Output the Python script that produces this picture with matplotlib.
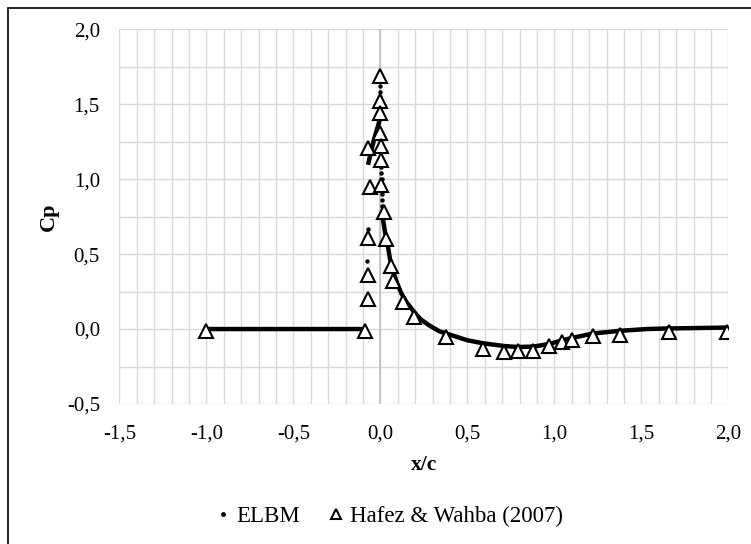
import numpy as np
import matplotlib
matplotlib.use("Agg")
import matplotlib.pyplot as plt
from matplotlib.lines import Line2D
from matplotlib.patches import Rectangle

plt.rcParams['font.family'] = ['Liberation Serif', 'DejaVu Serif']

# ELBM - dense parts (drawn as thick dotted line), NaN separates segments
elbm_x = [-1.0, -0.55, -0.1, np.nan,
          -0.068, -0.05, -0.035, -0.02, -0.005, 0.0, np.nan,
          0.017, 0.025, 0.04, 0.055, 0.075, 0.095, 0.12, 0.15, 0.19, 0.23, 0.28,
          0.34, 0.42, 0.5, 0.59, 0.71, 0.79, 0.88, 0.97, 1.045, 1.10, 1.22,
          1.375, 1.53, 1.66, 2.0]
elbm_y = [0.0, 0.0, 0.0, np.nan,
          1.11, 1.2, 1.27, 1.33, 1.39, 1.42, np.nan,
          0.72, 0.66, 0.58, 0.47, 0.38, 0.31, 0.24, 0.18, 0.12, 0.067, 0.025,
          -0.015, -0.045, -0.075, -0.095, -0.113, -0.12, -0.117, -0.1, -0.075, -0.06, -0.03,
          -0.012, 0.0, 0.004, 0.01]
# ELBM - isolated points near the leading edge
elbm_sparse_x = [-0.07, -0.075, 0.0, 0.0, 0.0, 0.005, 0.005, 0.008, 0.01, 0.01, 0.012, 0.015]
elbm_sparse_y = [0.67, 0.455, 1.62, 1.58, 1.55, 1.08, 1.04, 1.0, 0.9, 0.86, 0.82, 0.76]

# Hafez & Wahba (2007)
hafez_x = [-1.0, -0.09, -0.07, -0.07, -0.07, -0.06, -0.07, 0.0, 0.0, 0.0, 0.0, 0.005, 0.005,
           0.005, 0.02, 0.035, 0.06, 0.07, 0.13, 0.195, 0.38, 0.59, 0.71, 0.79, 0.88, 0.97,
           1.045, 1.10, 1.22, 1.375, 1.66, 1.99]
hafez_y = [-0.01, -0.01, 0.20, 0.36, 0.61, 0.945, 1.205, 1.69, 1.52, 1.44, 1.31, 1.22, 1.13,
           0.96, 0.78, 0.60, 0.42, 0.32, 0.18, 0.08, -0.05, -0.13, -0.15, -0.145, -0.145, -0.11,
           -0.085, -0.07, -0.045, -0.04, -0.02, -0.02]

x_ticks = [-1.5, -1.0, -0.5, 0.0, 0.5, 1.0, 1.5, 2.0]
y_ticks = [-0.5, 0.0, 0.5, 1.0, 1.5, 2.0]

fig = plt.figure(figsize=(7.51, 5.44), dpi=100)
fig.patches.append(Rectangle((7.5/751, -0.1), 1.2, 1 - 7.5/544 + 0.1, transform=fig.transFigure,
                             fill=False, edgecolor='black', linewidth=1.2, zorder=0))
ax = fig.add_axes([0.1589, 0.2574, 0.9698 - 0.1589, 0.9461 - 0.2574])

ax.set_xlim(-1.5, 2.0)
ax.set_ylim(-0.5, 2.0)
ax.set_xticks(x_ticks)
ax.set_yticks(y_ticks)
ax.set_xticks(np.arange(-1.5, 2.001, 0.1), minor=True)
ax.set_yticks(np.arange(-0.5, 2.001, 0.25), minor=True)
ax.set_xticklabels([f"{v:.1f}".replace('.', ',') for v in x_ticks])
ax.set_yticklabels([f"{v:.1f}".replace('.', ',') for v in y_ticks])
ax.grid(True, which='both', color='#d9d9d9', linewidth=1.0)
ax.set_axisbelow(True)
for s in ax.spines.values():
    s.set_visible(False)
ax.tick_params(which='both', length=0, labelsize=15, colors='black')
ax.tick_params(axis='y', pad=14)
ax.tick_params(axis='x', pad=15)
ax.axvline(0.0, color='#bfbfbf', linewidth=1.2, zorder=1)

ax.plot(elbm_x, elbm_y, color='black', linewidth=3.2, zorder=3)
ax.plot(elbm_sparse_x, elbm_sparse_y, linestyle='none', marker='o', markersize=2.2,
        color='black', zorder=3)
ax.plot(hafez_x, hafez_y, linestyle='none', marker='^', markersize=10, markerfacecolor='white',
        markeredgecolor='black', markeredgewidth=1.5, zorder=4)

ax.set_xlabel('x/c', fontsize=15.5, fontweight='bold', labelpad=8)
ax.set_ylabel('Cp', fontsize=16, fontweight='bold', labelpad=6)

handles = [Line2D([], [], linestyle='none', marker='o', markersize=2.5, color='black'),
           Line2D([], [], linestyle='none', marker='^', markersize=7, markerfacecolor='white',
                  markeredgecolor='black', markeredgewidth=1.5)]
fig.legend(handles, ['ELBM', 'Hafez & Wahba (2007)'], loc='center',
           bbox_to_anchor=(390 / 751, 1 - 516 / 544), ncol=2, frameon=False, fontsize=16.5,
           handlelength=0.5, handletextpad=0.35, columnspacing=1.3)

fig.savefig('out.png', dpi=100)
